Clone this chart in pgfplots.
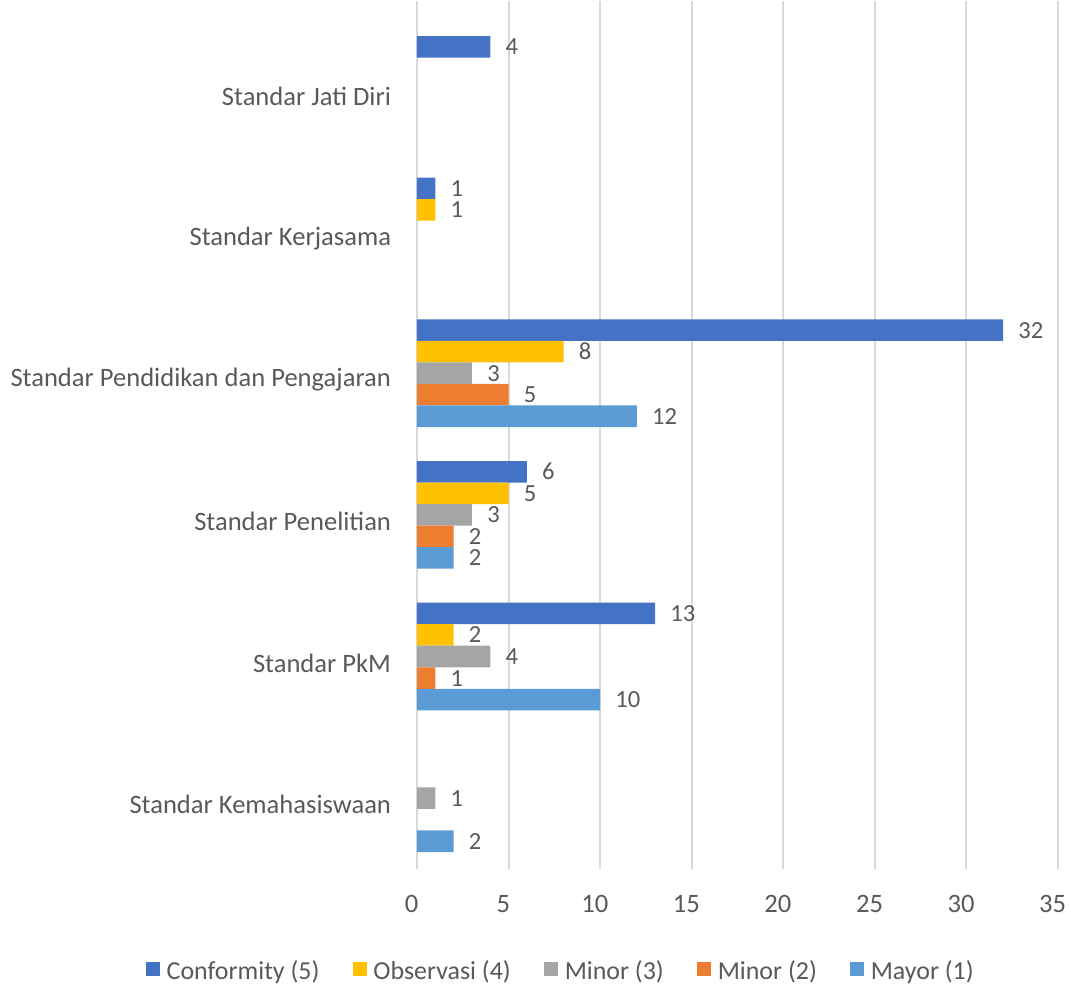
\documentclass[border=0pt]{standalone}
\usepackage{pgfplots}
\pgfplotsset{compat=1.18}
\usepackage{fontspec}
\setmainfont{Carlito}
\definecolor{cConf}{HTML}{4472C4}
\definecolor{cObs}{HTML}{FFC000}
\definecolor{cMin3}{HTML}{A5A5A5}
\definecolor{cMin2}{HTML}{ED7D31}
\definecolor{cMay}{HTML}{5B9BD5}
\definecolor{txt}{HTML}{595959}
\definecolor{grd}{HTML}{D9D9D9}
\begin{document}
\begin{tikzpicture}
\begin{axis}[
  scale only axis,
  width=480.75bp, height=651.3bp,
  xmin=0, xmax=35, ymin=-0.5, ymax=5.63,
  xbar, bar width=0.152,
  axis line style={draw=none},
  major tick length=0pt,
  xtick={0,5,...,35},
  xmajorgrids, grid style={grd, line width=1.5bp},
  ytick={0,1,2,3,4,5},
  yticklabels={Standar Kemahasiswaan, Standar PkM, Standar Penelitian, Standar Pendidikan dan Pengajaran, Standar Kerjasama, Standar Jati Diri},
  /pgf/number format/assume math mode=true,
  tick label style={font=\fontsize{20}{24}\selectfont, text=txt},
  yticklabel style={xshift=-16bp, yshift=-5bp},
  xticklabel style={yshift=-16bp, xshift=-4bp},
  nodes near coords,
  every node near coord/.append style={font=\fontsize{18.5}{22}\selectfont, text=txt, anchor=west, xshift=8bp, inner ysep=0pt, text height=12bp, text depth=0pt},
  legend columns=5,
  legend style={draw=none, at={(0.225,-0.117)}, anchor=center, font=\fontsize{19.5}{24}\selectfont, text=txt,
    /tikz/every odd column/.append style={column sep=3bp},
    /tikz/every even column/.append style={column sep=23bp}},
  legend image code/.code={\fill[#1] (0cm,-0.14cm) rectangle (0.37cm,0.23cm);},
  clip=false,
]
\addplot[fill=cConf, draw=none, bar shift=0.304] coordinates {(13,1) (6,2) (32,3) (1,4) (4,5)};
\addlegendentry{Conformity (5)}
\addplot[fill=cObs, draw=none, bar shift=0.152] coordinates {(2,1) (5,2) (8,3) (1,4)};
\addlegendentry{Observasi (4)}
\addplot[fill=cMin3, draw=none, bar shift=0] coordinates {(1,0) (4,1) (3,2) (3,3)};
\addlegendentry{Minor (3)}
\addplot[fill=cMin2, draw=none, bar shift=-0.152] coordinates {(1,1) (2,2) (5,3)};
\addlegendentry{Minor (2)}
\addplot[fill=cMay, draw=none, bar shift=-0.304] coordinates {(2,0) (10,1) (2,2) (12,3)};
\addlegendentry{Mayor (1)}
\end{axis}
\pgfresetboundingbox
\useasboundingbox (-312.75bp,-90.75bp) rectangle (490.5bp,651.75bp);
\end{tikzpicture}
\end{document}
